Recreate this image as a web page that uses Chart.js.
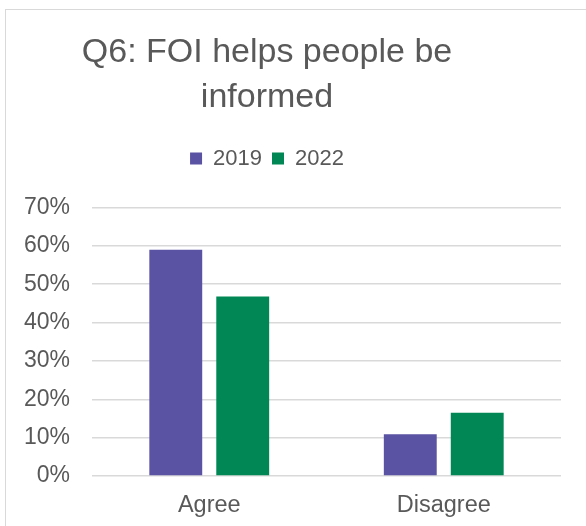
<!DOCTYPE html>
<html>
<head>
<meta charset="utf-8">
<script src="https://cdn.jsdelivr.net/npm/chart.js@4/dist/chart.umd.min.js"></script>
<style>
  html, body { margin: 0; padding: 0; background: #fff; }
  #wrap { position: relative; width: 586px; height: 526px; overflow: hidden; background: #fff; }
  #frame { position: absolute; left: 5px; top: 9px; width: 600px; height: 540px; border: 1px solid #d9d9d9; }
  #chart { position: absolute; left: -27px; top: 0; }
</style>
</head>
<body>
<div id="wrap">
  <div id="frame"></div>
  <canvas id="chart" width="613" height="526"></canvas>
</div>
<script>
// ── datos ──
const categorias = ["Agree", "Disagree"];
const valores2019 = [59, 10.9];
const valores2022 = [46.8, 16.5];
const ticksY = [0, 10, 20, 30, 40, 50, 60, 70];

const fuente = "'Liberation Sans', Arial, sans-serif";
const gris = "#595959";

document.addEventListener("DOMContentLoaded", () => {
    const ctx = document.getElementById("chart").getContext("2d");

    new Chart(ctx, {
        type: "bar",
        data: {
            labels: categorias,
            datasets: [
                {
                    label: "2019",
                    data: valores2019,
                    backgroundColor: "#5A52A3",
                    barPercentage: 0.79,
                    categoryPercentage: 0.571
                },
                {
                    label: "2022",
                    data: valores2022,
                    backgroundColor: "#008755",
                    barPercentage: 0.79,
                    categoryPercentage: 0.571
                }
            ]
        },
        options: {
            responsive: false,
            animation: false,
            layout: { padding: { left: 0, right: 25, top: 0, bottom: 0 } },
            plugins: {
                title: {
                    display: true,
                    text: ["Q6: FOI helps people be", "informed"],
                    color: gris,
                    font: { family: fuente, size: 34, weight: "normal", lineHeight: 1.33 },
                    padding: { top: 30, bottom: 17 }
                },
                legend: {
                    position: "top",
                    labels: {
                        color: gris,
                        font: { family: fuente, size: 22 },
                        boxWidth: 12,
                        boxHeight: 12,
                        padding: 10
                    }
                },
                tooltip: { enabled: false }
            },
            scales: {
                x: {
                    afterFit: (scale) => { scale.height = 50; },
                    grid: { display: false, drawTicks: false },
                    border: { display: false },
                    ticks: { color: gris, font: { family: fuente, size: 23.5 }, padding: 15 }
                },
                y: {
                    min: 0,
                    max: 77.3,
                    afterFit: (scale) => { scale.width = 119; },
                    afterBuildTicks: (scale) => { scale.ticks = ticksY.map(v => ({ value: v })); },
                    grid: { color: "#d9d9d9", lineWidth: 1.5, drawTicks: false },
                    border: { display: false },
                    ticks: {
                        color: gris,
                        font: { family: fuente, size: 23 },
                        padding: 22,
                        callback: (v) => v + "%"
                    }
                }
            }
        }
    });
});
</script>
</body>
</html>
